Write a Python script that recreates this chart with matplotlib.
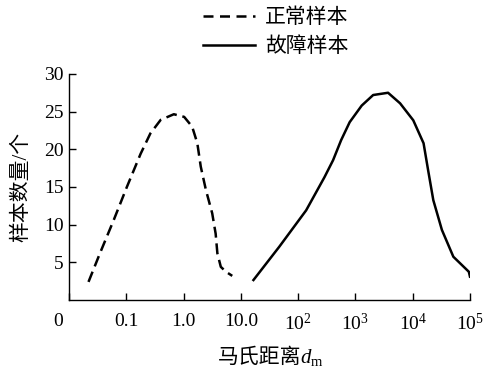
import matplotlib
matplotlib.use("Agg")
import matplotlib.pyplot as plt
import numpy as np
from matplotlib.lines import Line2D
from matplotlib.transforms import ScaledTranslation

plt.rcParams['font.family'] = ['Liberation Serif', 'Noto Sans CJK SC']
plt.rcParams['mathtext.fontset'] = 'custom'
plt.rcParams['mathtext.rm'] = 'Liberation Serif'
plt.rcParams['mathtext.it'] = 'Liberation Serif:italic'

# x positions are in decade-slot units (0, 0.1, 1.0, 10.0, 1e2 ... 1e5 at 0..7)
tick_pos = [0, 1, 2, 3, 4, 5, 6, 7]
tick_labels = ['0', '0.1', '1.0', '10.0', r'$10^2$', r'$10^3$', r'$10^4$', r'$10^5$']
yticks = [5, 10, 15, 20, 25, 30]

normal_x = [0.34, 0.54, 0.78, 1.01, 1.25, 1.42, 1.60, 1.83, 2.01, 2.15, 2.24, 2.30,
            2.39, 2.50, 2.56, 2.59, 2.65, 2.74, 2.85]
normal_y = [2.4, 6.2, 10.6, 15.0, 19.4, 22.1, 23.9, 24.65, 24.3, 23.0, 20.8, 17.7,
            14.6, 11.5, 8.8, 6.2, 4.4, 3.75, 3.2]

fault_x = [3.22, 3.67, 4.14, 4.46, 4.61, 4.75, 4.90, 5.11, 5.31, 5.57, 5.78, 6.01,
           6.19, 6.27, 6.36, 6.51, 6.71, 6.98, 7.0]
fault_y = [2.65, 7.06, 11.9, 16.3, 18.55, 21.2, 23.6, 25.8, 27.2, 27.5, 26.1, 23.85,
           20.8, 17.2, 13.25, 9.3, 5.74, 3.75, 3.1]

dash = (0, (4.4, 2.3))

fig = plt.figure(figsize=(4.84, 3.83), dpi=100)
ax = fig.add_axes([0.1426, 0.2167, 0.971 - 0.1426, 0.807 - 0.2167])

ax.plot(normal_x, normal_y, color='black', lw=1.8, linestyle=dash,
        dash_joinstyle='round', dash_capstyle='butt')
ax.plot(fault_x, fault_y, color='black', lw=1.8, solid_joinstyle='round')

ax.set_xlim(0, 7)
ax.set_ylim(0, 30)
ax.set_xticks(tick_pos)
ax.set_xticklabels(tick_labels)
ax.set_yticks(yticks)
for s in ['top', 'right']:
    ax.spines[s].set_visible(False)
for s in ['left', 'bottom']:
    ax.spines[s].set_linewidth(1.0)
ax.tick_params(direction='in', length=5, width=1.0, labelsize=14, pad=9)
ax.tick_params(axis='y', pad=4)
# shift the "0" label slightly left, as in the reference
lab0 = ax.get_xticklabels()[0]
lab0.set_transform(lab0.get_transform() + ScaledTranslation(-11 / 100, 0, fig.dpi_scale_trans))

ax.set_ylabel('样本数量/个', fontsize=15, labelpad=9)

# x label: CJK part + math part
fig.canvas.draw()
t1 = fig.text(218 / 484, 1 - 358 / 383, '马氏距离', fontsize=15, ha='left', va='center')
fig.canvas.draw()
bb = t1.get_window_extent()
fig.text(bb.x1 / fig.bbox.width - 0.004, 1 - 358 / 383, r'$d_\mathrm{m}$', fontsize=15,
         ha='left', va='center')

handles = [Line2D([], [], color='black', lw=1.8, linestyle=(0, (4.0, 2.6))),
           Line2D([], [], color='black', lw=1.8)]
fig.legend(handles, ['正常样本', '故障样本'], loc='upper left',
           bbox_to_anchor=(0.38, 1.027), frameon=False, fontsize=15,
           handlelength=2.5, handletextpad=0.5, labelspacing=0.45)

fig.savefig('out.png', dpi=100)
